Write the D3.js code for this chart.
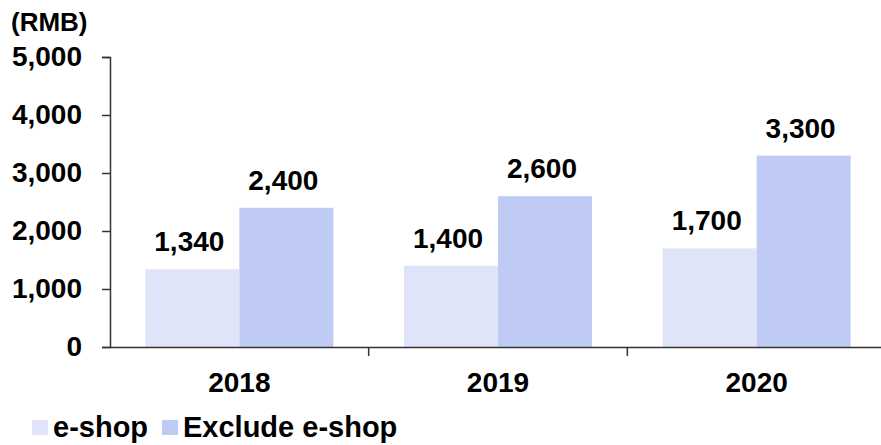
<!DOCTYPE html>
<html>
<head>
<meta charset="utf-8">
<script src="https://cdn.jsdelivr.net/npm/d3@7"></script>
<style>
  html, body { margin: 0; padding: 0; background: #fff; }
  svg { display: block; font-family: Arial, "Liberation Sans", sans-serif; font-weight: bold; }
</style>
</head>
<body>
<div id="chart"></div>
<script>
const years = ['2018', '2019', '2020'];
const seriesNames = ['e-shop', 'Exclude e-shop'];
const eshop = [1340, 1400, 1700];
const excludeEshop = [2400, 2600, 3300];
const yTicks = [0, 1000, 2000, 3000, 4000, 5000];

const COLORS = ['#dfe4f8', '#c0cbf5'];
const width = 881, height = 445;
const X0 = 110, X1 = 886, Y0 = 347, Y1 = 57;

const svg = d3.select('#chart').append('svg')
  .attr('width', width)
  .attr('height', height);

const x0 = d3.scaleBand().domain(years).range([X0, X1]).paddingInner(0).paddingOuter(0);
const x1 = d3.scaleBand().domain(seriesNames)
  .range([0, x0.bandwidth()]).paddingInner(0).paddingOuter(0.376);
const y = d3.scaleLinear().domain([0, 5000]).range([Y0, Y1]);

const rows = years.map((yr, i) => ({ year: yr, values: [eshop[i], excludeEshop[i]] }));

// bars
const groups = svg.append('g').selectAll('g').data(rows).join('g')
  .attr('transform', (d) => `translate(${x0(d.year)},0)`);

groups.selectAll('rect')
  .data((d) => d.values.map((v, k) => ({ name: seriesNames[k], v, k })))
  .join('rect')
  .attr('x', (d) => x1(d.name))
  .attr('width', x1.bandwidth())
  .attr('y', (d) => y(d.v))
  .attr('height', (d) => Y0 - y(d.v))
  .attr('fill', (d) => COLORS[d.k]);

groups.selectAll('text')
  .data((d) => d.values.map((v, k) => ({ name: seriesNames[k], v })))
  .join('text')
  .attr('x', (d) => x1(d.name) + x1.bandwidth() / 2 - 3)
  .attr('y', (d) => y(d.v) - 18)
  .attr('text-anchor', 'middle')
  .style('font-size', '28px')
  .text((d) => d3.format(',')(d.v));

// y axis
const yAxis = svg.append('g')
  .attr('transform', `translate(${X0},0)`)
  .call(d3.axisLeft(y).tickValues(yTicks).tickFormat(d3.format(',')).tickSize(8).tickPadding(20));

// x axis
const xAxis = svg.append('g')
  .attr('transform', `translate(0,${Y0})`)
  .call(d3.axisBottom(x0).tickSize(0).tickPadding(25));

svg.append('g').selectAll('line')
  .data(years.slice(1).concat(['end']))
  .join('line')
  .attr('x1', (d, i) => X0 + x0.step() * (i + 1))
  .attr('x2', (d, i) => X0 + x0.step() * (i + 1))
  .attr('y1', Y0).attr('y2', Y0 + 9)
  .attr('stroke', '#333').attr('stroke-width', 1.5);

[yAxis, xAxis].forEach((axis) => {
  axis.select('.domain').attr('stroke', '#333').attr('stroke-width', 1.5);
  axis.selectAll('.tick line').attr('stroke', '#333').attr('stroke-width', 1.5);
  axis.selectAll('text')
    .attr('fill', '#000')
    .style('font-size', '28px')
    .style('font-family', 'Arial, "Liberation Sans", sans-serif')
    .style('font-weight', 'bold');
});

// unit label
svg.append('text')
  .attr('x', 11).attr('y', 31)
  .style('font-size', '26px')
  .text('(RMB)');

// legend
const legendX = [32, 162];
const legend = svg.append('g').selectAll('g').data(seriesNames).join('g')
  .attr('transform', (d, i) => `translate(${legendX[i]},420)`);
legend.append('rect').attr('width', 16).attr('height', 15).attr('fill', (d, i) => COLORS[i]);
legend.append('text').attr('x', 21).attr('y', 17)
  .style('font-size', '29px')
  .text((d) => d);
</script>
</body>
</html>
